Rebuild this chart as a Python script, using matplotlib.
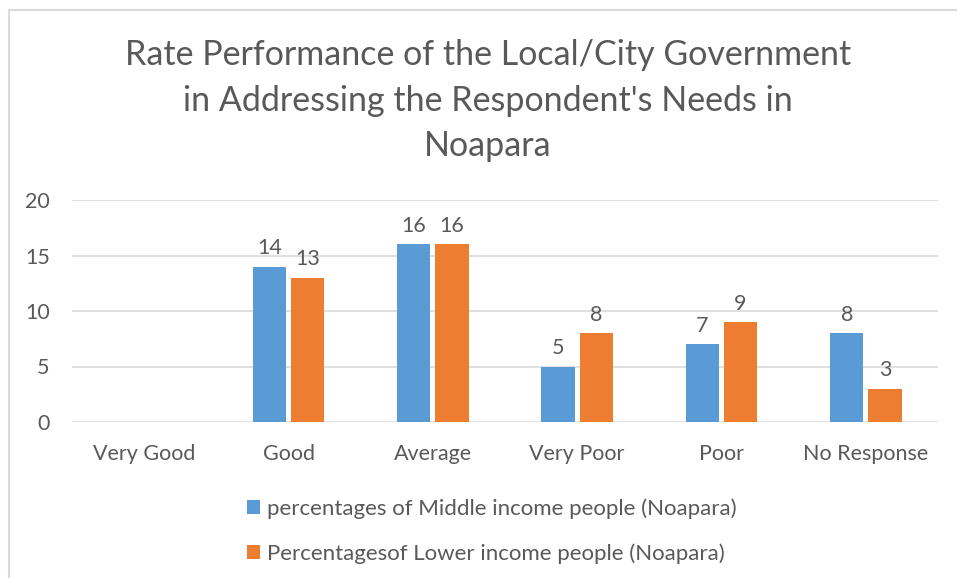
import matplotlib.pyplot as plt
import numpy as np

# chart data
categories = ['Very Good', 'Good', 'Average', 'Very Poor', 'Poor', 'No Response']
middle_income = [0, 14, 16, 5, 7, 8]
lower_income = [0, 13, 16, 8, 9, 3]
series_names = ['percentages of Middle income people (Noapara)',
                'Percentagesof Lower income people (Noapara)']
y_ticks = [0, 5, 10, 15, 20]
title = "Rate Performance of the Local/City Government\nin Addressing the Respondent's Needs in\nNoapara"

plt.rcParams['font.family'] = ['Lato', 'DejaVu Sans']
txt = '#595959'
grid = '#d9d9d9'
blue = '#5B9BD5'
orange = '#ED7D31'

fig = plt.figure(figsize=(9.57, 5.78), dpi=100)
ax = fig.add_axes([72/957, 1 - 422/578, (938 - 72)/957, (422 - 200)/578])

x = np.arange(len(categories))
w = 0.23
gap = 0.035
b1 = ax.bar(x - (w + gap)/2, middle_income, w, color=blue, label=series_names[0])
b2 = ax.bar(x + (w + gap)/2, lower_income, w, color=orange, label=series_names[1])

# no labels on empty bars
ax.bar_label(b1, labels=[str(v) if v else '' for v in middle_income],
             padding=6, fontsize=15.5, color=txt)
ax.bar_label(b2, labels=[str(v) if v else '' for v in lower_income],
             padding=6, fontsize=15.5, color=txt)

ax.set_xlim(-0.5, len(categories) - 0.5)
ax.set_ylim(0, 20)
ax.set_yticks(y_ticks)
ax.set_xticks(x)
ax.set_xticklabels(categories)
ax.tick_params(axis='both', length=0, labelsize=15.5, labelcolor=txt)
ax.tick_params(axis='x', pad=16)
ax.tick_params(axis='y', pad=16)
ax.yaxis.grid(True, color=grid, linewidth=1.2)
ax.set_axisbelow(True)
for s in ax.spines.values():
    s.set_visible(False)

fig.text(488/957, 1 - 39/578, title, ha='center', va='top', fontsize=24.5,
         color=txt, linespacing=1.52)

fig.legend(handles=[b1, b2], loc='upper left', bbox_to_anchor=(227/957, 1 - 478/578),
           frameon=False, fontsize=16, labelcolor=txt, handlelength=0.6,
           handleheight=0.6, handletextpad=0.3, labelspacing=1.1)

# chart area border (left and top only visible)
fig.add_artist(plt.Line2D([8.5/957, 8.5/957], [0, 1 - 10/578], transform=fig.transFigure,
                          color=grid, linewidth=1.5))
fig.add_artist(plt.Line2D([8.5/957, 1], [1 - 10/578, 1 - 10/578], transform=fig.transFigure,
                          color=grid, linewidth=1.5))

fig.savefig('out.png', dpi=100)
